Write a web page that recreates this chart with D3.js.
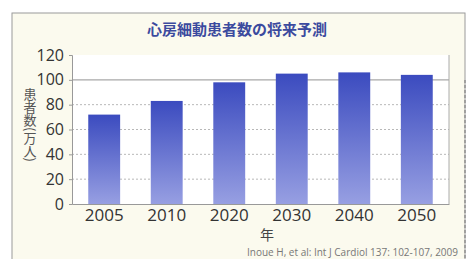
<!DOCTYPE html>
<html>
<head>
<meta charset="utf-8">
<script src="https://cdn.jsdelivr.net/npm/d3@7"></script>
<style>
  body { margin: 0; background: #fff; }
  svg { display: block; font-family: "Noto Sans CJK JP", "Noto Sans", sans-serif; }
</style>
</head>
<body>
<svg id="chart" width="469" height="259"></svg>
<script>
const years = ["2005", "2010", "2020", "2030", "2040", "2050"];
const patients = [72, 83, 98, 105, 106, 104];
const yTicks = [0, 20, 40, 60, 80, 100, 120];

const svg = d3.select("#chart");
const margin = { top: 55, right: 20, bottom: 55, left: 72 };
const width = 449 - margin.left;
const height = 204 - margin.top;

// panel background
svg.append("rect")
    .attr("x", 12).attr("y", 13)
    .attr("width", 453).attr("height", 260)
    .attr("fill", "#fbfaee")
    .attr("stroke", "#9a9a9a")
    .attr("stroke-width", 1);

svg.append("line")
    .attr("x1", 465).attr("x2", 465)
    .attr("y1", 80).attr("y2", 259)
    .attr("stroke", "#777")
    .attr("stroke-dasharray", "3,2");

const defs = svg.append("defs");
const grad = defs.append("linearGradient")
    .attr("id", "barGrad")
    .attr("x1", 0).attr("y1", 0).attr("x2", 0).attr("y2", 1);
grad.append("stop").attr("offset", "0%").attr("stop-color", "#3b4bbf");
grad.append("stop").attr("offset", "100%").attr("stop-color", "#979fe2");

svg.append("text")
    .attr("x", 237).attr("y", 35)
    .attr("text-anchor", "middle")
    .attr("fill", "#3b4a9e")
    .attr("font-size", 15)
    .attr("font-weight", "bold")
    .text("心房細動患者数の将来予測");

const g = svg.append("g")
    .attr("transform", `translate(${margin.left}, ${margin.top})`);

const x = d3.scaleBand()
    .domain(years)
    .range([0, width])
    .paddingInner(0.49)
    .paddingOuter(0.26);

const y = d3.scaleLinear()
    .domain([0, 120])
    .range([height, 0]);

g.append("rect")
    .attr("width", width).attr("height", height)
    .attr("fill", "#fff");

// grid
g.selectAll(".grid")
    .data(yTicks.filter(d => d > 0 && d < 120))
    .enter()
    .append("line")
    .attr("class", "grid")
    .attr("x1", 0).attr("x2", width)
    .attr("y1", d => y(d)).attr("y2", d => y(d))
    .attr("stroke", d => d === 100 ? "#a8a8a8" : "#b8b8b8")
    .attr("stroke-width", d => d === 100 ? 1.2 : 1)
    .attr("stroke-dasharray", d => d === 100 ? null : "2,2");

g.selectAll(".bar")
    .data(patients)
    .enter()
    .append("rect")
    .attr("class", "bar")
    .attr("x", (d, i) => x(years[i]))
    .attr("y", d => y(d))
    .attr("width", x.bandwidth())
    .attr("height", d => height - y(d))
    .attr("fill", "url(#barGrad)");

// frame lines
g.append("line")
    .attr("x1", width).attr("x2", width)
    .attr("y1", 0).attr("y2", height)
    .attr("stroke", "#aaa");

const yAxis = g.append("g")
    .call(d3.axisLeft(y).tickValues(yTicks).tickSize(3).tickPadding(5));
yAxis.select(".domain").attr("stroke", "#999");
yAxis.selectAll(".tick line").attr("stroke", "#999");
yAxis.selectAll("text")
    .attr("font-size", 16)
    .attr("fill", "#333")
    .attr("font-family", "'Open Sans', sans-serif");

const xAxis = g.append("g")
    .attr("transform", `translate(0, ${height})`)
    .call(d3.axisBottom(x).tickSize(0).tickPadding(5));
xAxis.select(".domain").attr("stroke", "#999");
xAxis.selectAll("text")
    .attr("font-size", 17)
    .attr("fill", "#333")
    .attr("font-family", "'Open Sans', sans-serif");

svg.append("text")
    .attr("x", 267).attr("y", 240)
    .attr("text-anchor", "middle")
    .attr("fill", "#444")
    .attr("font-size", 14)
    .text("年");

svg.append("text")
    .attr("x", 30).attr("y", 88)
    .attr("fill", "#555")
    .attr("font-size", 13)
    .attr("writing-mode", "vertical-rl")
    .text("患者数(万人)");

svg.append("text")
    .attr("x", 458).attr("y", 256)
    .attr("text-anchor", "end")
    .attr("fill", "#777")
    .attr("font-size", 10)
    .attr("font-family", "'Open Sans', sans-serif")
    .text("Inoue H, et al: Int J Cardiol 137: 102-107, 2009");
</script>
</body>
</html>
